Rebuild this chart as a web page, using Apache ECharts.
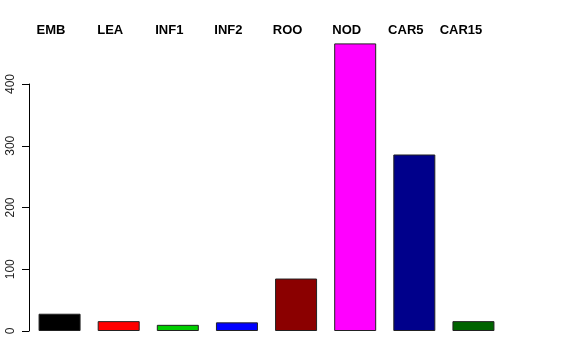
<!DOCTYPE html>
<html>
<head>
<meta charset="utf-8">
<script src="https://cdn.jsdelivr.net/npm/echarts@6/dist/echarts.min.js"></script>
<style>html,body{margin:0;padding:0;background:#fff;}#c{width:576px;height:360px;}</style>
</head>
<body>
<div id="c"></div>
<script>
var categories = ['EMB', 'LEA', 'INF1', 'INF2', 'ROO', 'NOD', 'CAR5', 'CAR15'];
var values = [28, 16, 10, 14, 85, 466, 286, 16];
var yTicks = [0, 100, 200, 300, 400];
var colors = ['#000000', '#FF0000', '#00CD00', '#0000FF', '#8B0000', '#FF00FF', '#00008B', '#006400'];

var chart = echarts.init(document.getElementById('c'), null, {renderer: 'canvas'});
chart.setOption({
  animation: false,
  backgroundColor: '#ffffff',
  grid: [
    {left: 30, right: 73, top: 36, bottom: 29},
    {left: 29, width: 10, top: 84, bottom: 29}
  ],
  xAxis: [
    {
      gridIndex: 0, type: 'category', data: categories, position: 'top',
      axisLine: {show: false}, axisTick: {show: false}, splitLine: {show: false},
      axisLabel: {
        interval: 0, hideOverlap: false,
        margin: -1, fontSize: 13, fontWeight: 'bold', color: '#000',
        fontFamily: 'Liberation Sans, Arial, sans-serif',
        padding: [0, 17, 0, 0],
        formatter: function (v) { return v === 'CAR15' ? '{s|' + v + '}' : v; },
        rich: {s: {fontSize: 13, fontWeight: 'bold', color: '#000', fontFamily: 'Liberation Sans, Arial, sans-serif', padding: [0, 8, 0, 0]}}
      }
    },
    {gridIndex: 1, type: 'category', data: [''], show: false}
  ],
  yAxis: [
    {gridIndex: 0, type: 'value', min: 0, max: 478, show: false, splitLine: {show: false}},
    {
      gridIndex: 1, type: 'value', min: yTicks[0], max: yTicks[yTicks.length - 1], interval: 100,
      axisLine: {show: true, lineStyle: {color: '#000', width: 1}},
      axisTick: {show: true, length: 7, lineStyle: {color: '#000'}},
      splitLine: {show: false},
      axisLabel: {rotate: 90, margin: 12, fontSize: 12, color: '#222', fontFamily: 'Liberation Sans, Arial, sans-serif'}
    }
  ],
  series: [{
    type: 'bar', xAxisIndex: 0, yAxisIndex: 0, barWidth: 42,
    data: values.map(function (v, i) {
      return {value: v, itemStyle: {color: colors[i], borderColor: '#222', borderWidth: 1}};
    })
  }]
});
</script>
</body>
</html>
